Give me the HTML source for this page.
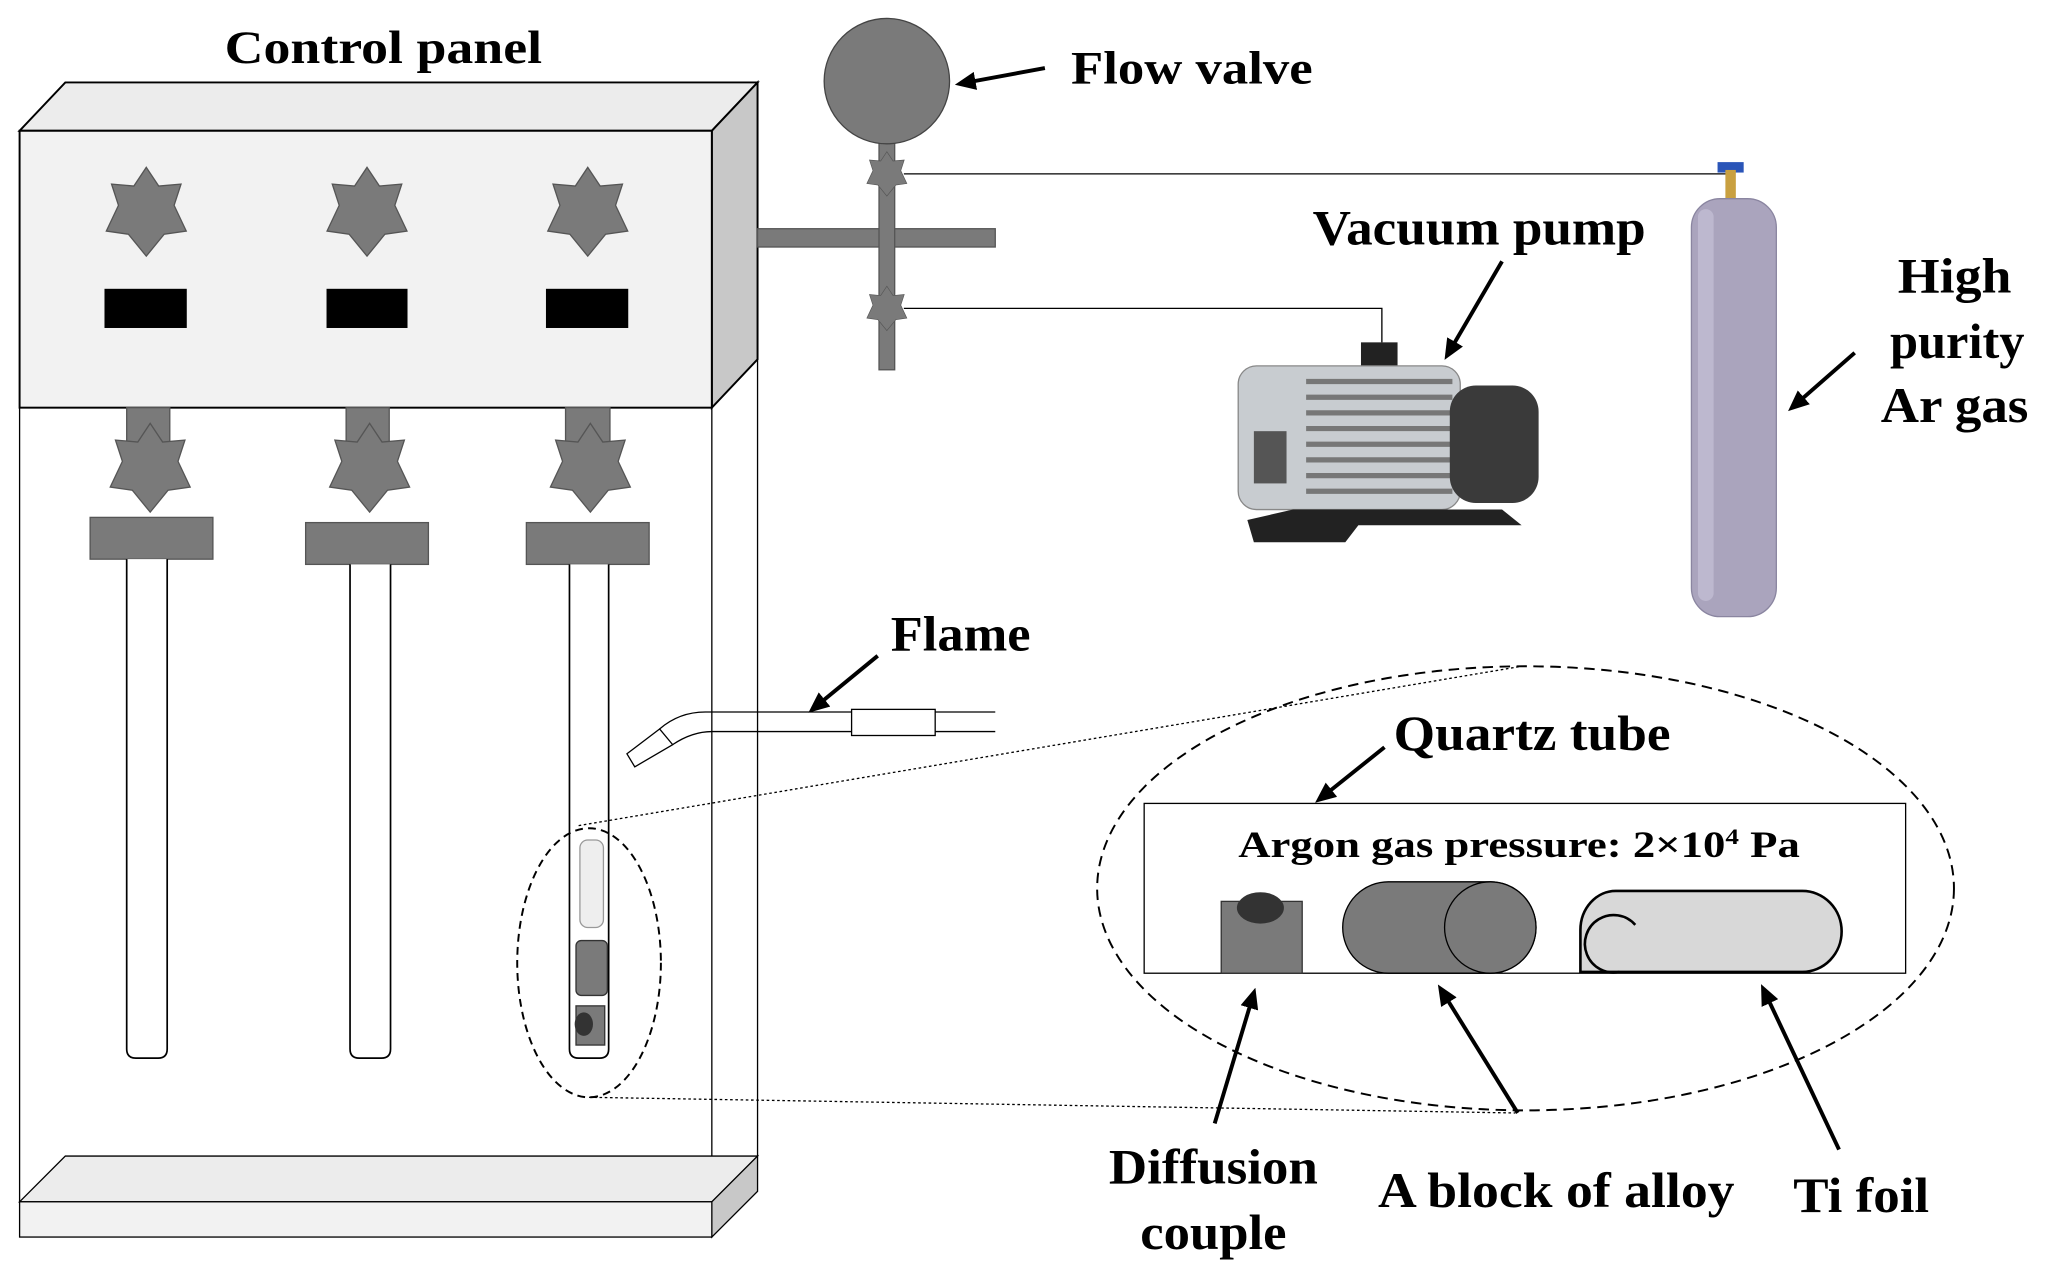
<!DOCTYPE html>
<html><head><meta charset="utf-8"><style>
html,body{margin:0;padding:0;background:#fff;}
svg{display:block;}
text{font-family:"Liberation Serif",serif;font-weight:bold;fill:#000;}
</style></head><body>
<svg width="2048" height="1279" viewBox="0 0 1568 979" xmlns="http://www.w3.org/2000/svg">
<defs>
<marker id="ah2" markerWidth="16" markerHeight="14" refX="12" refY="7" orient="auto" markerUnits="userSpaceOnUse"><path d="M0,0 L16,7 L0,14 z" fill="#000"/></marker>
<g id="star7"><polygon points="0,-34 9.5,-19.7 26.6,-21.2 21.3,-4.9 30.6,14.8 13.7,17.2 0,34 -13.7,17.2 -30.6,14.8 -21.3,-4.9 -26.6,-21.2 -9.5,-19.7" fill="#7a7a7a" stroke="#555" stroke-width="1"/></g>
</defs>
<text x="172" y="48" font-size="36" textLength="243" lengthAdjust="spacingAndGlyphs">Control panel</text>
<line x1="15" y1="312" x2="15" y2="920" stroke="#000"/>
<line x1="545" y1="312" x2="545" y2="920" stroke="#000"/>
<line x1="580" y1="275" x2="580" y2="885" stroke="#000"/>
<polygon points="15,920 50,885 580,885 545,920" fill="#ececec" stroke="#000"/>
<polygon points="545,920 580,885 580,912 545,947" fill="#c8c8c8" stroke="#000"/>
<rect x="15" y="920" width="530" height="27" fill="#f2f2f2" stroke="#000"/>
<polygon points="15,100 50,63 580,63 545,100" fill="#ececec" stroke="#000" stroke-width="1.5"/>
<polygon points="545,100 580,63 580,275 545,312" fill="#c8c8c8" stroke="#000" stroke-width="1.5"/>
<rect x="15" y="100" width="530" height="212" fill="#f2f2f2" stroke="#000" stroke-width="1.5"/>
<use href="#star7" transform="translate(112,162)"/>
<use href="#star7" transform="translate(281,162)"/>
<use href="#star7" transform="translate(450,162)"/>
<rect x="80" y="221" width="63" height="30" fill="#000"/>
<rect x="250" y="221" width="62" height="30" fill="#000"/>
<rect x="418" y="221" width="63" height="30" fill="#000"/>
<g fill="#7a7a7a" stroke="#555">
<rect x="97" y="312" width="33" height="40"/>
<rect x="265" y="312" width="33" height="40"/>
<rect x="433" y="312" width="34" height="40"/>
</g>
<use href="#star7" transform="translate(115,358)"/>
<use href="#star7" transform="translate(283,358)"/>
<use href="#star7" transform="translate(452,358)"/>
<g fill="#7a7a7a" stroke="#555">
<rect x="69" y="396" width="94" height="32"/>
<rect x="234" y="400" width="94" height="32"/>
<rect x="403" y="400" width="94" height="32"/>
</g>
<g fill="#fff" stroke="#000" stroke-width="1.3">
<path d="M97,428 V803 Q97,810 104,810 H121 Q128,810 128,803 V428"/>
<path d="M268,432 V803 Q268,810 275,810 H292 Q299,810 299,803 V432"/>
<path d="M436,432 V803 Q436,810 443,810 H459 Q466,810 466,803 V432"/>
</g>
<rect x="444" y="643" width="18" height="67" rx="6" fill="#eee" stroke="#999"/>
<rect x="441" y="720" width="24" height="42" rx="4" fill="#7a7a7a" stroke="#333"/>
<rect x="441" y="770" width="22" height="30" fill="#7a7a7a" stroke="#333"/>
<ellipse cx="447" cy="784" rx="7" ry="9" fill="#333"/>
<ellipse cx="451" cy="737" rx="55" ry="103" fill="none" stroke="#000" stroke-width="1.5" stroke-dasharray="6,4"/>
<line x1="443" y1="632" x2="1165" y2="510" stroke="#000" stroke-dasharray="2,2"/>
<line x1="451" y1="840" x2="1160" y2="852" stroke="#000" stroke-dasharray="2,2"/>
<rect x="580" y="175" width="182" height="14" fill="#7a7a7a" stroke="#555"/>
<rect x="673" y="100" width="12" height="183" fill="#7a7a7a" stroke="#555"/>
<circle cx="679" cy="62" r="48" fill="#7a7a7a" stroke="#444"/>
<g transform="translate(679,133) scale(0.5)"><use href="#star7"/></g>
<g transform="translate(679,236) scale(0.5)"><use href="#star7"/></g>
<polyline points="692,133 1325,133" fill="none" stroke="#000"/>
<polyline points="692,236 1058,236 1058,262" fill="none" stroke="#000"/>
<text x="820" y="64" font-size="36" textLength="185" lengthAdjust="spacingAndGlyphs">Flow valve</text>
<line x1="800" y1="52" x2="735" y2="64" stroke="#000" stroke-width="3" marker-end="url(#ah2)"/>
<rect x="1315" y="124" width="20" height="8" fill="#2a55b8"/>
<rect x="1321" y="130" width="8" height="24" fill="#c9a040"/>
<rect x="1295" y="152" width="65" height="320" rx="22" fill="#aaa4bd" stroke="#8a85a0"/>
<rect x="1300" y="160" width="12" height="300" rx="6" fill="#bdb8cf"/>
<text x="1453" y="224" font-size="38" textLength="87" lengthAdjust="spacingAndGlyphs">High</text>
<text x="1447" y="274" font-size="38" textLength="103" lengthAdjust="spacingAndGlyphs">purity</text>
<text x="1440" y="323" font-size="38" textLength="113" lengthAdjust="spacingAndGlyphs">Ar gas</text>
<line x1="1420" y1="270" x2="1372" y2="312" stroke="#000" stroke-width="3" marker-end="url(#ah2)"/>
<text x="1005" y="187" font-size="38" textLength="255" lengthAdjust="spacingAndGlyphs">Vacuum pump</text>
<line x1="1150" y1="200" x2="1108" y2="272" stroke="#000" stroke-width="3" marker-end="url(#ah2)"/>
<g>
<rect x="1042" y="262" width="28" height="22" fill="#222"/>
<rect x="948" y="280" width="170" height="110" rx="14" fill="#c8ccd0" stroke="#888"/>
<g stroke="#777" stroke-width="4">
<line x1="1000" y1="292" x2="1112" y2="292"/><line x1="1000" y1="304" x2="1112" y2="304"/><line x1="1000" y1="316" x2="1112" y2="316"/><line x1="1000" y1="328" x2="1112" y2="328"/><line x1="1000" y1="340" x2="1112" y2="340"/><line x1="1000" y1="352" x2="1112" y2="352"/><line x1="1000" y1="364" x2="1112" y2="364"/><line x1="1000" y1="376" x2="1112" y2="376"/>
</g>
<rect x="1110" y="295" width="68" height="90" rx="20" fill="#3a3a3a"/>
<rect x="960" y="330" width="25" height="40" fill="#555"/>
<path d="M990,390 L1150,390 L1165,402 L1040,402 L1030,415 L960,415 L955,398 z" fill="#222"/>
</g>
<path d="M762,545 H540 Q520,545 505,558" fill="none" stroke="#000"/>
<path d="M762,560 H545 Q530,560 515,570" fill="none" stroke="#000"/>
<polygon points="505,558 515,570 486,587 480,577" fill="#fff" stroke="#000"/>
<rect x="652" y="543" width="64" height="20" fill="#fff" stroke="#000"/>
<text x="682" y="498" font-size="38" textLength="107" lengthAdjust="spacingAndGlyphs">Flame</text>
<line x1="672" y1="502" x2="622" y2="543" stroke="#000" stroke-width="3" marker-end="url(#ah2)"/>
<ellipse cx="1168" cy="680" rx="328" ry="170" fill="none" stroke="#000" stroke-width="1.5" stroke-dasharray="8,5"/>
<rect x="876" y="615" width="583" height="130" fill="#fff" stroke="#000"/>
<text x="1067" y="574" font-size="38" textLength="212" lengthAdjust="spacingAndGlyphs">Quartz tube</text>
<line x1="1060" y1="572" x2="1010" y2="612" stroke="#000" stroke-width="3" marker-end="url(#ah2)"/>
<text x="948" y="656" font-size="28" textLength="430" lengthAdjust="spacingAndGlyphs">Argon gas pressure: 2×10<tspan font-size="17" dy="-10">4</tspan><tspan dy="10"> Pa</tspan></text>
<rect x="935" y="690" width="62" height="55" fill="#7a7a7a" stroke="#333"/>
<ellipse cx="965" cy="695" rx="18" ry="12" fill="#333"/>
<path d="M1063,675 H1141 A35,35 0 0 1 1141,745 H1063 A35,35 0 0 1 1063,675 z" fill="#7a7a7a" stroke="#000"/>
<ellipse cx="1141" cy="710" rx="35" ry="35" fill="#7a7a7a" stroke="#000"/>
<path d="M1237,682 H1380 A30,31 0 0 1 1380,744 H1210 V712 A27,30 0 0 1 1237,682 z" fill="#d8d8d8" stroke="#000" stroke-width="2"/>
<path d="M1240,744 A22,22 0 1 1 1252,708" fill="none" stroke="#000" stroke-width="2"/>
<line x1="930" y1="860" x2="960" y2="760" stroke="#000" stroke-width="3" marker-end="url(#ah2)"/>
<line x1="1162" y1="852" x2="1103" y2="757" stroke="#000" stroke-width="3" marker-end="url(#ah2)"/>
<line x1="1408" y1="880" x2="1350" y2="757" stroke="#000" stroke-width="3" marker-end="url(#ah2)"/>
<text x="849" y="906" font-size="38" textLength="160" lengthAdjust="spacingAndGlyphs">Diffusion</text>
<text x="873" y="956" font-size="38" textLength="112" lengthAdjust="spacingAndGlyphs">couple</text>
<text x="1055" y="924" font-size="38" textLength="273" lengthAdjust="spacingAndGlyphs">A block of alloy</text>
<text x="1373" y="928" font-size="38" textLength="104" lengthAdjust="spacingAndGlyphs">Ti foil</text>
</svg>
</body></html>
